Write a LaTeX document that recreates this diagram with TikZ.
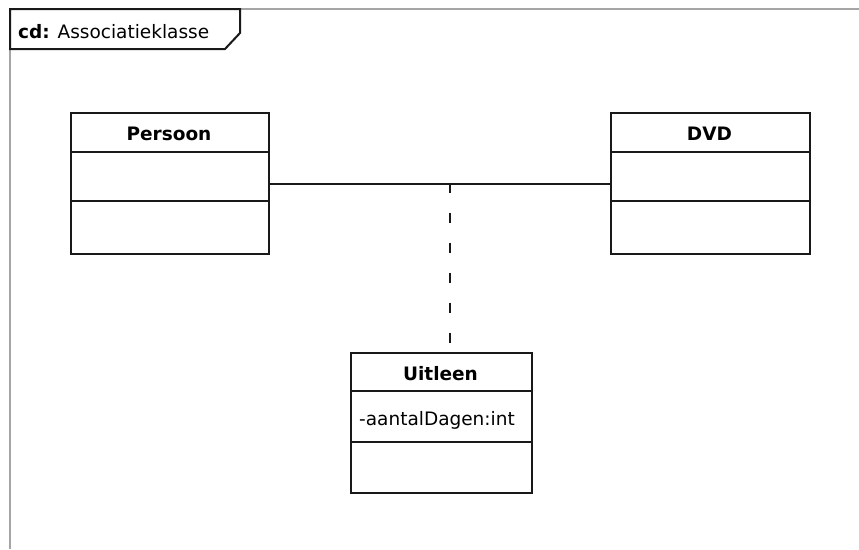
\documentclass[tikz,border=0pt]{standalone}
\usepackage{fontspec}
\setmainfont{DejaVu Sans}
\usetikzlibrary{calc}
\definecolor{framegray}{RGB}{165,165,165}
\definecolor{inkdark}{RGB}{25,25,25}
\begin{document}
\begin{tikzpicture}[x=1pt,y=-1pt,
  umlline/.style={line width=2pt, draw=inkdark},
  classbox/.style={umlline, rectangle, anchor=north west, inner sep=0pt, fill=white},
  classname/.style={anchor=base, inner sep=0pt, font=\fontsize{18.5}{22}\selectfont\bfseries},
  attrtext/.style={anchor=base west, inner sep=0pt, font=\fontsize{18.5}{22}\selectfont},
  framelabel/.style={anchor=base west, inner sep=0pt, font=\fontsize{18.5}{22}\selectfont},
  frameline/.style={line width=2.5pt, draw=framegray},
  dashline/.style={line width=2pt, draw=inkdark, dash pattern=on 10pt off 20pt}]

% canvas
\fill[white] (0,0) rectangle (859,549);
\useasboundingbox (0,0) rectangle (859,549);

% diagram frame
\draw[frameline] (10,9) -- (859,9);
\draw[frameline] (10,9) -- (10,549);
\draw[umlline, fill=white] (10,9) -- (240,9) -- (240,33) -- (225,49) -- (10,49) -- cycle;
\node[framelabel] (title) at (18,38) {\textbf{cd:} Associatieklasse};

% classes
\node[classbox, minimum width=198pt, minimum height=141pt] (persoon) at (70,112) {};
\draw[umlline] ([yshift=-40pt]persoon.north west) -- ([yshift=-40pt]persoon.north east);
\draw[umlline] ([yshift=-89pt]persoon.north west) -- ([yshift=-89pt]persoon.north east);
\node[classname] (persoonname) at (169,140) {Persoon};

\node[classbox, minimum width=199pt, minimum height=141pt] (dvd) at (610,112) {};
\draw[umlline] ([yshift=-40pt]dvd.north west) -- ([yshift=-40pt]dvd.north east);
\draw[umlline] ([yshift=-89pt]dvd.north west) -- ([yshift=-89pt]dvd.north east);
\node[classname] (dvdname) at (709.5,140) {DVD};

\node[classbox, minimum width=181pt, minimum height=140pt] (uitleen) at (350,352) {};
\draw[umlline] ([yshift=-39pt]uitleen.north west) -- ([yshift=-39pt]uitleen.north east);
\draw[umlline] ([yshift=-90pt]uitleen.north west) -- ([yshift=-90pt]uitleen.north east);
\node[classname] (uitleenname) at (440.5,380) {Uitleen};
\node[attrtext] (uitleenattr) at (359,425) {-aantalDagen:int};

% association and association class link
\draw[umlline] (persoon.east) -- (dvd.west);
\coordinate (assocmid) at (450,182.5);
\draw[dashline] (assocmid) -- (uitleen.north -| assocmid);
\end{tikzpicture}
\end{document}
